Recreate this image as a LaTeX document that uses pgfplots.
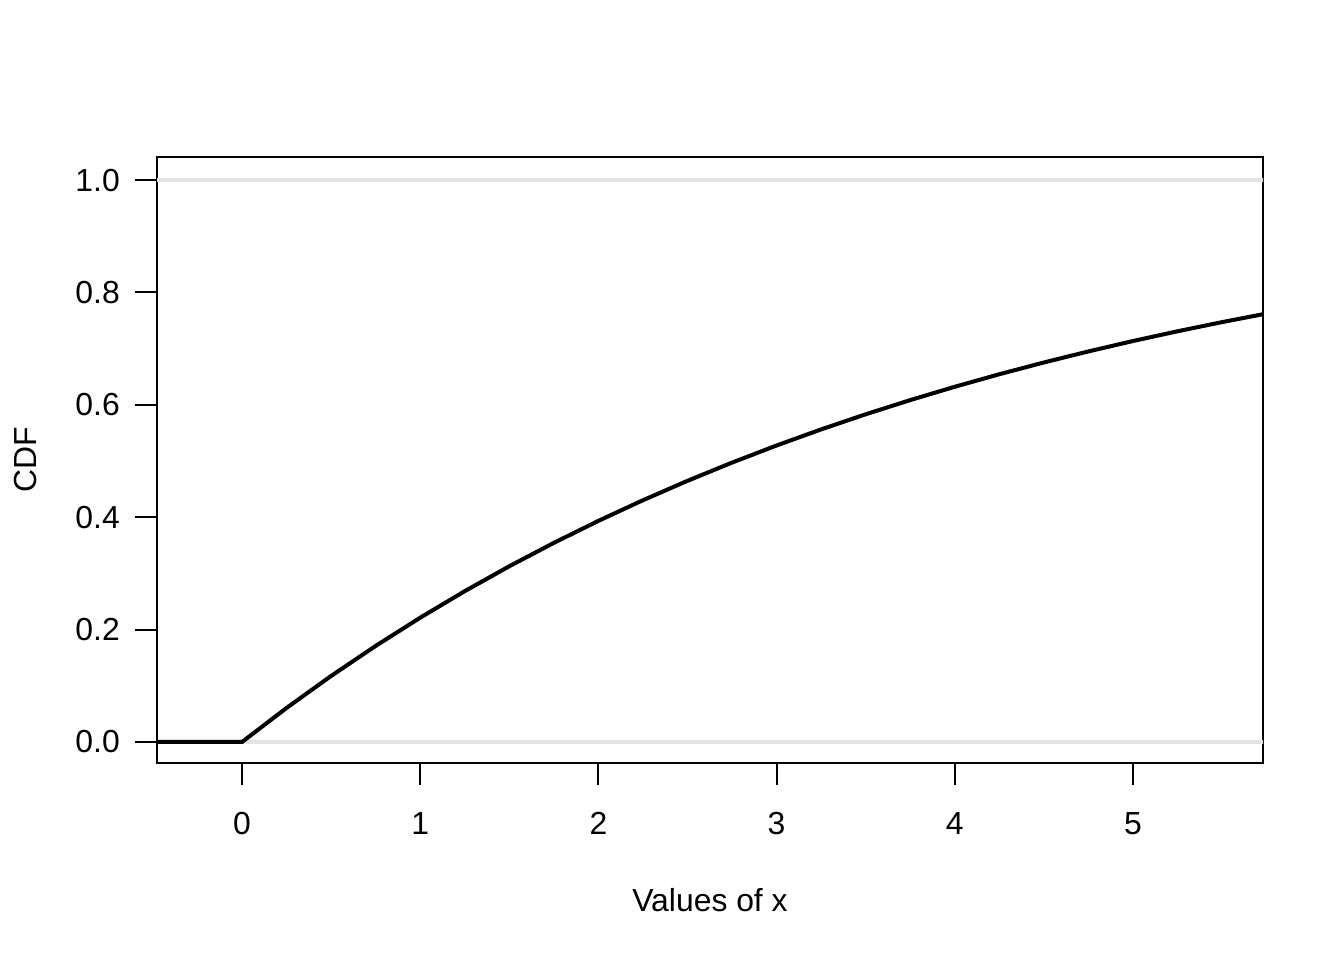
\documentclass[border=0pt]{standalone}
\usepackage{pgfplots}
\pgfplotsset{compat=1.18}
\usepackage{fontspec}
\setmainfont{Liberation Sans}

\begin{document}
\begin{tikzpicture}[x=1bp,y=1bp]
\useasboundingbox (0,0) rectangle (504,360);
\begin{axis}[
    at={(58.875bp,73.875bp)}, anchor=south west,
    scale only axis,
    width=414.75bp, height=227.25bp,
    xmin=-0.477, xmax=5.73,
    ymin=-0.0374, ymax=1.041,
    xtick={0,1,2,3,4,5},
    ytick={0,0.2,0.4,0.6,0.8,1.0},
    yticklabels={0.0,0.2,0.4,0.6,0.8,1.0},
    tick align=outside,
    major tick length=8.25bp,
    xtick pos=bottom, ytick pos=left,
    tick style={black, line width=0.7bp},
    axis line style={line width=0.7bp},
    /pgf/number format/assume math mode=true,
    tick label style={font=\fontsize{12}{14}\selectfont},
    xticklabel style={anchor=north, inner sep=0pt, yshift=-10bp},
    yticklabel style={anchor=east, inner sep=0pt, xshift=-5.5bp},
    xlabel={Values of x}, ylabel={CDF},
    every axis x label/.style={at={(axis description cs:0.5,-0.226)}, anchor=center, font=\fontsize{12}{14}\selectfont},
    every axis y label/.style={at={(axis description cs:-0.119,0.5)}, anchor=center, rotate=90, font=\fontsize{12}{14}\selectfont},
    clip=true,
]
\addplot[gray!22, line width=1.3bp, forget plot] coordinates {(-1,0) (6,0)};
\addplot[gray!22, line width=1.3bp, forget plot] coordinates {(-1,1) (6,1)};
\addplot[black, line width=1.5bp] coordinates {
    (-0.5,0) (0,0)
    (0.25,0.06059) (0.5,0.11750) (0.75,0.17097) (1,0.22120)
    (1.25,0.26838) (1.5,0.31271) (1.75,0.35435) (2,0.39347)
    (2.25,0.43022) (2.5,0.46474) (2.75,0.49716) (3,0.52763)
    (3.25,0.55625) (3.5,0.58314) (3.75,0.60839) (4,0.63212)
    (4.25,0.65441) (4.5,0.67535) (4.75,0.69502) (5,0.71350)
    (5.25,0.73085) (5.5,0.74716) (5.75,0.76244)
};
\end{axis}
\end{tikzpicture}
\end{document}
